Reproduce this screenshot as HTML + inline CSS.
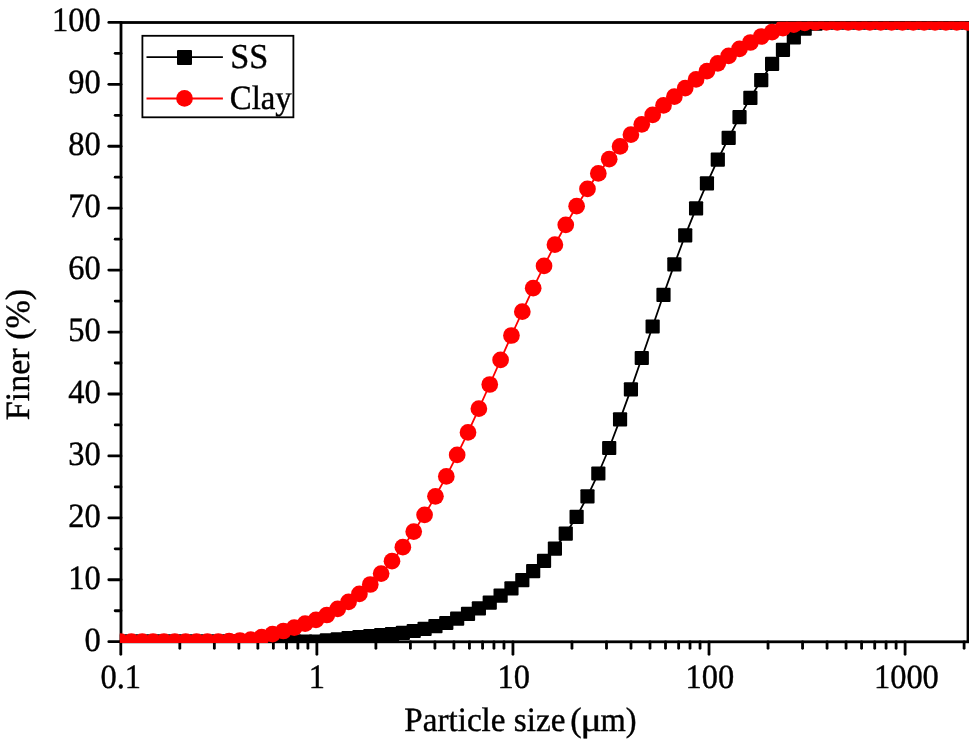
<!DOCTYPE html><html><head><meta charset="utf-8"><style>html,body{margin:0;padding:0;background:#fff;overflow:hidden}svg{display:block;will-change:transform}</style></head><body>
<svg width="969" height="741" viewBox="0 0 969 741" font-family="Liberation Serif" text-rendering="geometricPrecision">
<style>text{stroke:#000;stroke-width:0.4px}</style>
<rect width="969" height="741" fill="#fff"/>
<g stroke="#000" stroke-width="2.8" fill="none" stroke-linecap="butt">
<rect x="121" y="22.5" width="847" height="619.3"/>
<g stroke-linecap="round">
<line x1="108.8" y1="641.70" x2="121" y2="641.70"/>
<line x1="108.8" y1="579.77" x2="121" y2="579.77"/>
<line x1="108.8" y1="517.84" x2="121" y2="517.84"/>
<line x1="108.8" y1="455.91" x2="121" y2="455.91"/>
<line x1="108.8" y1="393.98" x2="121" y2="393.98"/>
<line x1="108.8" y1="332.05" x2="121" y2="332.05"/>
<line x1="108.8" y1="270.12" x2="121" y2="270.12"/>
<line x1="108.8" y1="208.19" x2="121" y2="208.19"/>
<line x1="108.8" y1="146.26" x2="121" y2="146.26"/>
<line x1="108.8" y1="84.33" x2="121" y2="84.33"/>
<line x1="108.8" y1="22.40" x2="121" y2="22.40"/>
<line x1="115.2" y1="610.74" x2="121" y2="610.74"/>
<line x1="115.2" y1="548.81" x2="121" y2="548.81"/>
<line x1="115.2" y1="486.88" x2="121" y2="486.88"/>
<line x1="115.2" y1="424.95" x2="121" y2="424.95"/>
<line x1="115.2" y1="363.01" x2="121" y2="363.01"/>
<line x1="115.2" y1="301.08" x2="121" y2="301.08"/>
<line x1="115.2" y1="239.15" x2="121" y2="239.15"/>
<line x1="115.2" y1="177.22" x2="121" y2="177.22"/>
<line x1="115.2" y1="115.29" x2="121" y2="115.29"/>
<line x1="115.2" y1="53.37" x2="121" y2="53.37"/>
<line x1="120.80" y1="641.8" x2="120.80" y2="654.3"/>
<line x1="179.82" y1="641.8" x2="179.82" y2="648.3"/>
<line x1="214.35" y1="641.8" x2="214.35" y2="648.3"/>
<line x1="238.85" y1="641.8" x2="238.85" y2="648.3"/>
<line x1="257.85" y1="641.8" x2="257.85" y2="648.3"/>
<line x1="273.37" y1="641.8" x2="273.37" y2="648.3"/>
<line x1="286.50" y1="641.8" x2="286.50" y2="648.3"/>
<line x1="297.87" y1="641.8" x2="297.87" y2="648.3"/>
<line x1="307.90" y1="641.8" x2="307.90" y2="648.3"/>
<line x1="316.87" y1="641.8" x2="316.87" y2="654.3"/>
<line x1="375.89" y1="641.8" x2="375.89" y2="648.3"/>
<line x1="410.42" y1="641.8" x2="410.42" y2="648.3"/>
<line x1="434.92" y1="641.8" x2="434.92" y2="648.3"/>
<line x1="453.92" y1="641.8" x2="453.92" y2="648.3"/>
<line x1="469.44" y1="641.8" x2="469.44" y2="648.3"/>
<line x1="482.57" y1="641.8" x2="482.57" y2="648.3"/>
<line x1="493.94" y1="641.8" x2="493.94" y2="648.3"/>
<line x1="503.97" y1="641.8" x2="503.97" y2="648.3"/>
<line x1="512.94" y1="641.8" x2="512.94" y2="654.3"/>
<line x1="571.96" y1="641.8" x2="571.96" y2="648.3"/>
<line x1="606.49" y1="641.8" x2="606.49" y2="648.3"/>
<line x1="630.99" y1="641.8" x2="630.99" y2="648.3"/>
<line x1="649.99" y1="641.8" x2="649.99" y2="648.3"/>
<line x1="665.51" y1="641.8" x2="665.51" y2="648.3"/>
<line x1="678.64" y1="641.8" x2="678.64" y2="648.3"/>
<line x1="690.01" y1="641.8" x2="690.01" y2="648.3"/>
<line x1="700.04" y1="641.8" x2="700.04" y2="648.3"/>
<line x1="709.01" y1="641.8" x2="709.01" y2="654.3"/>
<line x1="768.03" y1="641.8" x2="768.03" y2="648.3"/>
<line x1="802.56" y1="641.8" x2="802.56" y2="648.3"/>
<line x1="827.06" y1="641.8" x2="827.06" y2="648.3"/>
<line x1="846.06" y1="641.8" x2="846.06" y2="648.3"/>
<line x1="861.58" y1="641.8" x2="861.58" y2="648.3"/>
<line x1="874.71" y1="641.8" x2="874.71" y2="648.3"/>
<line x1="886.08" y1="641.8" x2="886.08" y2="648.3"/>
<line x1="896.11" y1="641.8" x2="896.11" y2="648.3"/>
<line x1="905.08" y1="641.8" x2="905.08" y2="654.3"/>
<line x1="964.10" y1="641.8" x2="964.10" y2="648.3"/>
</g></g>
<g font-size="34" fill="#000" stroke="#000" stroke-width="0.45">
<text transform="translate(100.8,650.50) scale(0.955,1)" text-anchor="end">0</text>
<text transform="translate(100.8,588.57) scale(0.955,1)" text-anchor="end">10</text>
<text transform="translate(100.8,526.64) scale(0.955,1)" text-anchor="end">20</text>
<text transform="translate(100.8,464.71) scale(0.955,1)" text-anchor="end">30</text>
<text transform="translate(100.8,402.78) scale(0.955,1)" text-anchor="end">40</text>
<text transform="translate(100.8,340.85) scale(0.955,1)" text-anchor="end">50</text>
<text transform="translate(100.8,278.92) scale(0.955,1)" text-anchor="end">60</text>
<text transform="translate(100.8,216.99) scale(0.955,1)" text-anchor="end">70</text>
<text transform="translate(100.8,155.06) scale(0.955,1)" text-anchor="end">80</text>
<text transform="translate(100.8,93.13) scale(0.955,1)" text-anchor="end">90</text>
<text transform="translate(100.8,31.20) scale(0.955,1)" text-anchor="end">100</text>
<text transform="translate(120.80,688.4) scale(0.955,1)" text-anchor="middle">0.1</text>
<text transform="translate(316.87,688.4) scale(0.955,1)" text-anchor="middle">1</text>
<text transform="translate(513.84,688.4) scale(0.955,1)" text-anchor="middle">10</text>
<text transform="translate(709.81,688.4) scale(0.955,1)" text-anchor="middle">100</text>
<text transform="translate(906.38,688.4) scale(0.955,1)" text-anchor="middle">1000</text>
</g>
<text transform="translate(28.6,354.5) rotate(-90)" font-size="34" text-anchor="middle">Finer (%)</text>
<g font-size="34">
<text transform="translate(404.3,730.7) scale(0.975,1)">Particle size</text>
<text x="570.2" y="730.7">(</text>
<text transform="translate(580.6,730.7) scale(1.17,1)">μ</text>
<text transform="translate(600.5,730.7) scale(0.955,1)">m)</text>
</g>
<defs><clipPath id="c"><rect x="119.8" y="21.8" width="851" height="621.2"/></clipPath></defs>
<g clip-path="url(#c)">
<polyline points="120.50,641.70 131.36,641.70 142.22,641.70 153.08,641.70 163.94,641.70 174.80,641.70 185.66,641.70 196.52,641.70 207.38,641.70 218.24,641.70 229.10,641.70 239.96,641.70 250.82,641.70 261.68,641.70 272.54,641.70 283.40,641.70 294.26,641.70 305.12,641.70 315.98,641.70 326.84,640.30 337.70,639.30 348.56,638.20 359.42,637.20 370.28,636.20 381.14,635.10 392.00,634.10 402.86,632.90 413.72,631.00 424.58,628.80 435.44,626.10 446.30,623.00 457.16,618.60 468.02,613.80 478.88,608.30 489.74,602.70 500.60,595.60 511.46,588.30 522.32,580.10 533.18,571.20 544.04,560.80 554.90,548.60 565.76,533.60 576.62,516.80 587.48,496.40 598.34,473.50 609.20,448.00 620.06,419.40 630.92,389.40 641.78,358.00 652.64,326.50 663.50,294.80 674.36,264.40 685.22,235.30 696.08,208.30 706.94,183.30 717.80,159.60 728.66,137.80 739.52,117.10 750.38,97.90 761.24,80.10 772.10,63.90 782.96,49.90 793.82,37.50 804.68,28.60 815.54,23.70 826.40,22.40 837.26,22.40 848.12,22.40 858.98,22.40 869.84,22.40 880.70,22.40 891.56,22.40 902.42,22.40 913.28,22.40 924.14,22.40 935.00,22.40 945.86,22.40 956.72,22.40 967.58,22.40" fill="none" stroke="#000" stroke-width="1.8"/>
<rect x="113.40" y="634.60" width="14.2" height="14.2" rx="1" fill="#000"/>
<rect x="124.26" y="634.60" width="14.2" height="14.2" rx="1" fill="#000"/>
<rect x="135.12" y="634.60" width="14.2" height="14.2" rx="1" fill="#000"/>
<rect x="145.98" y="634.60" width="14.2" height="14.2" rx="1" fill="#000"/>
<rect x="156.84" y="634.60" width="14.2" height="14.2" rx="1" fill="#000"/>
<rect x="167.70" y="634.60" width="14.2" height="14.2" rx="1" fill="#000"/>
<rect x="178.56" y="634.60" width="14.2" height="14.2" rx="1" fill="#000"/>
<rect x="189.42" y="634.60" width="14.2" height="14.2" rx="1" fill="#000"/>
<rect x="200.28" y="634.60" width="14.2" height="14.2" rx="1" fill="#000"/>
<rect x="211.14" y="634.60" width="14.2" height="14.2" rx="1" fill="#000"/>
<rect x="222.00" y="634.60" width="14.2" height="14.2" rx="1" fill="#000"/>
<rect x="232.86" y="634.60" width="14.2" height="14.2" rx="1" fill="#000"/>
<rect x="243.72" y="634.60" width="14.2" height="14.2" rx="1" fill="#000"/>
<rect x="254.58" y="634.60" width="14.2" height="14.2" rx="1" fill="#000"/>
<rect x="265.44" y="634.60" width="14.2" height="14.2" rx="1" fill="#000"/>
<rect x="276.30" y="634.60" width="14.2" height="14.2" rx="1" fill="#000"/>
<rect x="287.16" y="634.60" width="14.2" height="14.2" rx="1" fill="#000"/>
<rect x="298.02" y="634.60" width="14.2" height="14.2" rx="1" fill="#000"/>
<rect x="308.88" y="634.60" width="14.2" height="14.2" rx="1" fill="#000"/>
<rect x="319.74" y="633.20" width="14.2" height="14.2" rx="1" fill="#000"/>
<rect x="330.60" y="632.20" width="14.2" height="14.2" rx="1" fill="#000"/>
<rect x="341.46" y="631.10" width="14.2" height="14.2" rx="1" fill="#000"/>
<rect x="352.32" y="630.10" width="14.2" height="14.2" rx="1" fill="#000"/>
<rect x="363.18" y="629.10" width="14.2" height="14.2" rx="1" fill="#000"/>
<rect x="374.04" y="628.00" width="14.2" height="14.2" rx="1" fill="#000"/>
<rect x="384.90" y="627.00" width="14.2" height="14.2" rx="1" fill="#000"/>
<rect x="395.76" y="625.80" width="14.2" height="14.2" rx="1" fill="#000"/>
<rect x="406.62" y="623.90" width="14.2" height="14.2" rx="1" fill="#000"/>
<rect x="417.48" y="621.70" width="14.2" height="14.2" rx="1" fill="#000"/>
<rect x="428.34" y="619.00" width="14.2" height="14.2" rx="1" fill="#000"/>
<rect x="439.20" y="615.90" width="14.2" height="14.2" rx="1" fill="#000"/>
<rect x="450.06" y="611.50" width="14.2" height="14.2" rx="1" fill="#000"/>
<rect x="460.92" y="606.70" width="14.2" height="14.2" rx="1" fill="#000"/>
<rect x="471.78" y="601.20" width="14.2" height="14.2" rx="1" fill="#000"/>
<rect x="482.64" y="595.60" width="14.2" height="14.2" rx="1" fill="#000"/>
<rect x="493.50" y="588.50" width="14.2" height="14.2" rx="1" fill="#000"/>
<rect x="504.36" y="581.20" width="14.2" height="14.2" rx="1" fill="#000"/>
<rect x="515.22" y="573.00" width="14.2" height="14.2" rx="1" fill="#000"/>
<rect x="526.08" y="564.10" width="14.2" height="14.2" rx="1" fill="#000"/>
<rect x="536.94" y="553.70" width="14.2" height="14.2" rx="1" fill="#000"/>
<rect x="547.80" y="541.50" width="14.2" height="14.2" rx="1" fill="#000"/>
<rect x="558.66" y="526.50" width="14.2" height="14.2" rx="1" fill="#000"/>
<rect x="569.52" y="509.70" width="14.2" height="14.2" rx="1" fill="#000"/>
<rect x="580.38" y="489.30" width="14.2" height="14.2" rx="1" fill="#000"/>
<rect x="591.24" y="466.40" width="14.2" height="14.2" rx="1" fill="#000"/>
<rect x="602.10" y="440.90" width="14.2" height="14.2" rx="1" fill="#000"/>
<rect x="612.96" y="412.30" width="14.2" height="14.2" rx="1" fill="#000"/>
<rect x="623.82" y="382.30" width="14.2" height="14.2" rx="1" fill="#000"/>
<rect x="634.68" y="350.90" width="14.2" height="14.2" rx="1" fill="#000"/>
<rect x="645.54" y="319.40" width="14.2" height="14.2" rx="1" fill="#000"/>
<rect x="656.40" y="287.70" width="14.2" height="14.2" rx="1" fill="#000"/>
<rect x="667.26" y="257.30" width="14.2" height="14.2" rx="1" fill="#000"/>
<rect x="678.12" y="228.20" width="14.2" height="14.2" rx="1" fill="#000"/>
<rect x="688.98" y="201.20" width="14.2" height="14.2" rx="1" fill="#000"/>
<rect x="699.84" y="176.20" width="14.2" height="14.2" rx="1" fill="#000"/>
<rect x="710.70" y="152.50" width="14.2" height="14.2" rx="1" fill="#000"/>
<rect x="721.56" y="130.70" width="14.2" height="14.2" rx="1" fill="#000"/>
<rect x="732.42" y="110.00" width="14.2" height="14.2" rx="1" fill="#000"/>
<rect x="743.28" y="90.80" width="14.2" height="14.2" rx="1" fill="#000"/>
<rect x="754.14" y="73.00" width="14.2" height="14.2" rx="1" fill="#000"/>
<rect x="765.00" y="56.80" width="14.2" height="14.2" rx="1" fill="#000"/>
<rect x="775.86" y="42.80" width="14.2" height="14.2" rx="1" fill="#000"/>
<rect x="786.72" y="30.40" width="14.2" height="14.2" rx="1" fill="#000"/>
<rect x="797.58" y="21.50" width="14.2" height="14.2" rx="1" fill="#000"/>
<rect x="808.44" y="16.60" width="14.2" height="14.2" rx="1" fill="#000"/>
<rect x="819.30" y="15.30" width="14.2" height="14.2" rx="1" fill="#000"/>
<rect x="830.16" y="15.30" width="14.2" height="14.2" rx="1" fill="#000"/>
<rect x="841.02" y="15.30" width="14.2" height="14.2" rx="1" fill="#000"/>
<rect x="851.88" y="15.30" width="14.2" height="14.2" rx="1" fill="#000"/>
<rect x="862.74" y="15.30" width="14.2" height="14.2" rx="1" fill="#000"/>
<rect x="873.60" y="15.30" width="14.2" height="14.2" rx="1" fill="#000"/>
<rect x="884.46" y="15.30" width="14.2" height="14.2" rx="1" fill="#000"/>
<rect x="895.32" y="15.30" width="14.2" height="14.2" rx="1" fill="#000"/>
<rect x="906.18" y="15.30" width="14.2" height="14.2" rx="1" fill="#000"/>
<rect x="917.04" y="15.30" width="14.2" height="14.2" rx="1" fill="#000"/>
<rect x="927.90" y="15.30" width="14.2" height="14.2" rx="1" fill="#000"/>
<rect x="938.76" y="15.30" width="14.2" height="14.2" rx="1" fill="#000"/>
<rect x="949.62" y="15.30" width="14.2" height="14.2" rx="1" fill="#000"/>
<rect x="960.48" y="15.30" width="14.2" height="14.2" rx="1" fill="#000"/>
<polyline points="120.50,641.70 131.36,641.70 142.22,641.70 153.08,641.70 163.94,641.70 174.80,641.70 185.66,641.70 196.52,641.70 207.38,641.70 218.24,641.70 229.10,641.20 239.96,640.50 250.82,639.60 261.68,637.20 272.54,634.20 283.40,631.00 294.26,627.70 305.12,623.70 315.98,619.90 326.84,615.00 337.70,608.90 348.56,601.90 359.42,593.90 370.28,584.50 381.14,573.60 392.00,561.20 402.86,547.20 413.72,531.60 424.58,514.80 435.44,496.30 446.30,476.40 457.16,454.90 468.02,432.40 478.88,408.70 489.74,384.50 500.60,359.90 511.46,335.50 522.32,311.70 533.18,288.20 544.04,265.90 554.90,244.70 565.76,224.80 576.62,206.20 587.48,188.90 598.34,173.40 609.20,159.20 620.06,146.40 630.92,134.70 641.78,124.30 652.64,114.90 663.50,105.40 674.36,96.70 685.22,88.10 696.08,79.40 706.94,71.20 717.80,63.30 728.66,55.80 739.52,48.80 750.38,42.50 761.24,36.50 772.10,32.10 782.96,28.10 793.82,24.60 804.68,22.80 815.54,22.40 826.40,22.40 837.26,22.40 848.12,22.40 858.98,22.40 869.84,22.40 880.70,22.40 891.56,22.40 902.42,22.40 913.28,22.40 924.14,22.40 935.00,22.40 945.86,22.40 956.72,22.40 967.58,22.40" fill="none" stroke="#f00" stroke-width="1.8"/>
<circle cx="120.50" cy="641.70" r="8.35" fill="#f00"/>
<circle cx="131.36" cy="641.70" r="8.35" fill="#f00"/>
<circle cx="142.22" cy="641.70" r="8.35" fill="#f00"/>
<circle cx="153.08" cy="641.70" r="8.35" fill="#f00"/>
<circle cx="163.94" cy="641.70" r="8.35" fill="#f00"/>
<circle cx="174.80" cy="641.70" r="8.35" fill="#f00"/>
<circle cx="185.66" cy="641.70" r="8.35" fill="#f00"/>
<circle cx="196.52" cy="641.70" r="8.35" fill="#f00"/>
<circle cx="207.38" cy="641.70" r="8.35" fill="#f00"/>
<circle cx="218.24" cy="641.70" r="8.35" fill="#f00"/>
<circle cx="229.10" cy="641.20" r="8.35" fill="#f00"/>
<circle cx="239.96" cy="640.50" r="8.35" fill="#f00"/>
<circle cx="250.82" cy="639.60" r="8.35" fill="#f00"/>
<circle cx="261.68" cy="637.20" r="8.35" fill="#f00"/>
<circle cx="272.54" cy="634.20" r="8.35" fill="#f00"/>
<circle cx="283.40" cy="631.00" r="8.35" fill="#f00"/>
<circle cx="294.26" cy="627.70" r="8.35" fill="#f00"/>
<circle cx="305.12" cy="623.70" r="8.35" fill="#f00"/>
<circle cx="315.98" cy="619.90" r="8.35" fill="#f00"/>
<circle cx="326.84" cy="615.00" r="8.35" fill="#f00"/>
<circle cx="337.70" cy="608.90" r="8.35" fill="#f00"/>
<circle cx="348.56" cy="601.90" r="8.35" fill="#f00"/>
<circle cx="359.42" cy="593.90" r="8.35" fill="#f00"/>
<circle cx="370.28" cy="584.50" r="8.35" fill="#f00"/>
<circle cx="381.14" cy="573.60" r="8.35" fill="#f00"/>
<circle cx="392.00" cy="561.20" r="8.35" fill="#f00"/>
<circle cx="402.86" cy="547.20" r="8.35" fill="#f00"/>
<circle cx="413.72" cy="531.60" r="8.35" fill="#f00"/>
<circle cx="424.58" cy="514.80" r="8.35" fill="#f00"/>
<circle cx="435.44" cy="496.30" r="8.35" fill="#f00"/>
<circle cx="446.30" cy="476.40" r="8.35" fill="#f00"/>
<circle cx="457.16" cy="454.90" r="8.35" fill="#f00"/>
<circle cx="468.02" cy="432.40" r="8.35" fill="#f00"/>
<circle cx="478.88" cy="408.70" r="8.35" fill="#f00"/>
<circle cx="489.74" cy="384.50" r="8.35" fill="#f00"/>
<circle cx="500.60" cy="359.90" r="8.35" fill="#f00"/>
<circle cx="511.46" cy="335.50" r="8.35" fill="#f00"/>
<circle cx="522.32" cy="311.70" r="8.35" fill="#f00"/>
<circle cx="533.18" cy="288.20" r="8.35" fill="#f00"/>
<circle cx="544.04" cy="265.90" r="8.35" fill="#f00"/>
<circle cx="554.90" cy="244.70" r="8.35" fill="#f00"/>
<circle cx="565.76" cy="224.80" r="8.35" fill="#f00"/>
<circle cx="576.62" cy="206.20" r="8.35" fill="#f00"/>
<circle cx="587.48" cy="188.90" r="8.35" fill="#f00"/>
<circle cx="598.34" cy="173.40" r="8.35" fill="#f00"/>
<circle cx="609.20" cy="159.20" r="8.35" fill="#f00"/>
<circle cx="620.06" cy="146.40" r="8.35" fill="#f00"/>
<circle cx="630.92" cy="134.70" r="8.35" fill="#f00"/>
<circle cx="641.78" cy="124.30" r="8.35" fill="#f00"/>
<circle cx="652.64" cy="114.90" r="8.35" fill="#f00"/>
<circle cx="663.50" cy="105.40" r="8.35" fill="#f00"/>
<circle cx="674.36" cy="96.70" r="8.35" fill="#f00"/>
<circle cx="685.22" cy="88.10" r="8.35" fill="#f00"/>
<circle cx="696.08" cy="79.40" r="8.35" fill="#f00"/>
<circle cx="706.94" cy="71.20" r="8.35" fill="#f00"/>
<circle cx="717.80" cy="63.30" r="8.35" fill="#f00"/>
<circle cx="728.66" cy="55.80" r="8.35" fill="#f00"/>
<circle cx="739.52" cy="48.80" r="8.35" fill="#f00"/>
<circle cx="750.38" cy="42.50" r="8.35" fill="#f00"/>
<circle cx="761.24" cy="36.50" r="8.35" fill="#f00"/>
<circle cx="772.10" cy="32.10" r="8.35" fill="#f00"/>
<circle cx="782.96" cy="28.10" r="8.35" fill="#f00"/>
<circle cx="793.82" cy="24.60" r="8.35" fill="#f00"/>
<circle cx="804.68" cy="22.80" r="8.35" fill="#f00"/>
<circle cx="815.54" cy="22.40" r="8.35" fill="#f00"/>
<circle cx="826.40" cy="22.40" r="8.35" fill="#f00"/>
<circle cx="837.26" cy="22.40" r="8.35" fill="#f00"/>
<circle cx="848.12" cy="22.40" r="8.35" fill="#f00"/>
<circle cx="858.98" cy="22.40" r="8.35" fill="#f00"/>
<circle cx="869.84" cy="22.40" r="8.35" fill="#f00"/>
<circle cx="880.70" cy="22.40" r="8.35" fill="#f00"/>
<circle cx="891.56" cy="22.40" r="8.35" fill="#f00"/>
<circle cx="902.42" cy="22.40" r="8.35" fill="#f00"/>
<circle cx="913.28" cy="22.40" r="8.35" fill="#f00"/>
<circle cx="924.14" cy="22.40" r="8.35" fill="#f00"/>
<circle cx="935.00" cy="22.40" r="8.35" fill="#f00"/>
<circle cx="945.86" cy="22.40" r="8.35" fill="#f00"/>
<circle cx="956.72" cy="22.40" r="8.35" fill="#f00"/>
<circle cx="967.58" cy="22.40" r="8.35" fill="#f00"/>
</g>
<rect x="142.4" y="35.8" width="151" height="81.5" fill="#fff" stroke="#000" stroke-width="1.8"/>
<line x1="146.5" y1="57.2" x2="222.9" y2="57.2" stroke="#000" stroke-width="1.8"/>
<rect x="177" y="50" width="15" height="15" rx="1" fill="#000"/>
<line x1="146.5" y1="98.4" x2="222.9" y2="98.4" stroke="#f00" stroke-width="2"/>
<circle cx="184.5" cy="98.4" r="8.35" fill="#f00"/>
<text transform="translate(230.3,68.2) scale(0.977,1)" font-size="35">SS</text>
<text transform="translate(229.8,108.5) scale(0.965,1)" font-size="34">Clay</text>
</svg></body></html>
